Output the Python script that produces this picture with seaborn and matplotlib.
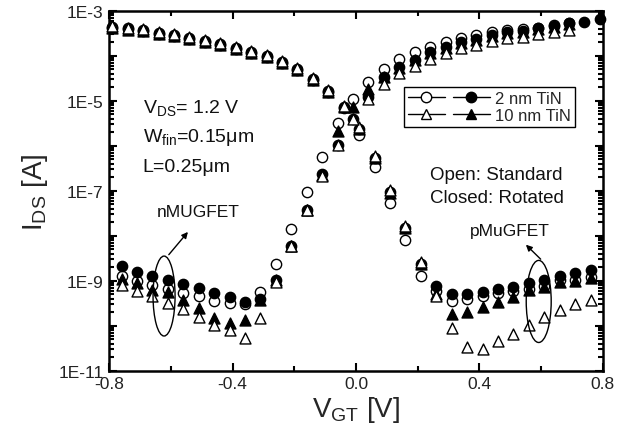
import numpy as np
import pandas as pd
import matplotlib
matplotlib.use("Agg")
import matplotlib.pyplot as plt
from matplotlib.lines import Line2D
from matplotlib.patches import Ellipse
from matplotlib.ticker import LogLocator, FuncFormatter, MultipleLocator, NullFormatter
import seaborn as sns

# ---------------- data: log10(I_DS [A]) versus V_GT [V] ----------------
# pMuGFET branch (current falls with V_GT)
vgt_p = [-0.79, -0.74, -0.69, -0.64, -0.59, -0.54, -0.49, -0.44, -0.39, -0.34,
         -0.29, -0.24, -0.19, -0.14, -0.09, -0.04, 0.01, 0.06, 0.11, 0.16,
         0.21, 0.26, 0.31, 0.36, 0.41, 0.46, 0.51, 0.56, 0.61, 0.66, 0.71, 0.76]
p_2nm_std = [-3.35, -3.39, -3.42, -3.49, -3.53, -3.60, -3.66, -3.73, -3.82, -3.91,
             -4.00, -4.13, -4.29, -4.51, -4.78, -5.16, -5.76, -6.47, -7.27, -8.10,
             -8.88, -9.22, -9.44, -9.40, -9.34, -9.27, -9.23, -9.19, -9.12, -8.99, -8.99, -8.92]
p_2nm_rot = [-3.37, -3.41, -3.44, -3.51, -3.55, -3.62, -3.68, -3.75, -3.84, -3.93,
             -4.02, -4.15, -4.31, -4.53, -4.80, -5.13, -5.62, -6.26, -7.03, -7.82,
             -8.62, -9.12, -9.29, -9.29, -9.24, -9.19, -9.14, -9.04, -8.97, -8.88, -8.82, -8.75]
p_10nm_std = [-3.33, -3.37, -3.40, -3.47, -3.51, -3.58, -3.64, -3.71, -3.80, -3.89,
              -3.98, -4.11, -4.27, -4.49, -4.76, -5.11, -5.58, -6.22, -6.99, -7.77,
              -8.58, -9.34, -10.04, -10.47, -10.51, -10.33, -10.18, -9.97, -9.81, -9.64, -9.51, -9.42]
p_10nm_rot = [-3.38, -3.42, -3.45, -3.51, -3.55, -3.62, -3.68, -3.75, -3.84, -3.93,
              -4.02, -4.15, -4.31, -4.53, -4.80, -5.14, -5.63, -6.27, -7.04, -7.83,
              -8.62, -9.29, -9.73, -9.68, -9.58, -9.46, -9.36, -9.20, -9.14, -9.02, -9.00, -8.94]

# nMUGFET branch (current rises with V_GT)
vgt_n = [-0.76, -0.71, -0.66, -0.61, -0.56, -0.51, -0.46, -0.41, -0.36, -0.31,
         -0.26, -0.21, -0.16, -0.11, -0.06, -0.01, 0.04, 0.09, 0.14, 0.19,
         0.24, 0.29, 0.34, 0.39, 0.44, 0.49, 0.54, 0.59, 0.64, 0.69, 0.74, 0.79]
n_2nm_std = [-8.90, -9.01, -9.10, -9.19, -9.27, -9.34, -9.44, -9.49, -9.52, -9.25,
             -8.62, -7.84, -7.02, -6.25, -5.48, -4.96, -4.58, -4.28, -4.07, -3.92,
             -3.80, -3.70, -3.60, -3.54, -3.47, -3.42, -3.40, -3.37, -3.31, -3.26]
n_2nm_rot = [-8.67, -8.81, -8.90, -8.99, -9.07, -9.16, -9.27, -9.36, -9.46, -9.40,
             -8.97, -8.22, -7.42, -6.62, -5.98, -5.40, -4.92, -4.46, -4.25, -4.08,
             -3.92, -3.80, -3.69, -3.62, -3.53, -3.47, -3.44, -3.39, -3.33, -3.27, -3.24, -3.19]
n_10nm_std = [-9.09, -9.22, -9.34, -9.50, -9.62, -9.81, -9.98, -10.10, -10.27, -9.83,
              -9.03, -8.22, -7.42, -6.66, -5.99, -5.40, -4.96, -4.62, -4.38, -4.23,
              -4.06, -3.94, -3.82, -3.75, -3.67, -3.61, -3.57, -3.51, -3.47, -3.43]
n_10nm_rot = [-8.95, -9.05, -9.20, -9.25, -9.42, -9.61, -9.83, -9.93, -9.86, -9.42,
              -8.97, -8.22, -7.42, -6.64, -5.66, -5.14, -4.73, -4.47, -4.27, -4.10,
              -3.94, -3.82, -3.71, -3.64, -3.55, -3.49, -3.46, -3.41, -3.35, -3.29]


def frame(v, logi):
    n = len(logi)
    return pd.DataFrame({"VGT": v[:n], "IDS": 10.0 ** np.asarray(logi)})


# drawing order: open circles, filled circles, filled triangles, open triangles
series = [
    (frame(vgt_p, p_2nm_std), "o", "white"),
    (frame(vgt_n, n_2nm_std), "o", "white"),
    (frame(vgt_p, p_2nm_rot), "o", "black"),
    (frame(vgt_n, n_2nm_rot), "o", "black"),
    (frame(vgt_p, p_10nm_rot), "^", "black"),
    (frame(vgt_n, n_10nm_rot), "^", "black"),
    (frame(vgt_p, p_10nm_std), "^", "white"),
    (frame(vgt_n, n_10nm_std), "^", "white"),
]

# ---------------- figure ----------------
sns.set_style("ticks")
plt.rcParams["font.family"] = ["Liberation Sans", "DejaVu Sans"]
plt.rcParams["mathtext.default"] = "regular"

fig = plt.figure(figsize=(6.28, 4.35), dpi=100)
ax = fig.add_axes([0.174, 0.145, 0.786, 0.8276])

for z, (df, mk, fc) in enumerate(series):
    sns.scatterplot(data=df, x="VGT", y="IDS", marker=mk, s=55 if mk == "o" else 62,
                    facecolor=fc, edgecolor="black", linewidth=1.0, ax=ax,
                    zorder=3 + z, clip_on=False)

ax.set_yscale("log")
ax.set_xlim(-0.8, 0.8)
ax.set_ylim(1e-11, 1e-3)

# ticks
ax.xaxis.set_major_locator(MultipleLocator(0.4))
ax.xaxis.set_minor_locator(MultipleLocator(0.2))
ax.xaxis.set_major_formatter(FuncFormatter(lambda v, p: f"{v:.1f}".replace("-0.0", "0.0")))
ax.yaxis.set_major_locator(LogLocator(base=10, numticks=20))
ax.yaxis.set_minor_locator(LogLocator(base=10, subs=np.arange(2, 10), numticks=20))
ax.yaxis.set_minor_formatter(NullFormatter())


def ylab(v, p):
    e = int(round(np.log10(v)))
    return f"1E{e}" if e % 2 else ""


ax.yaxis.set_major_formatter(FuncFormatter(ylab))
ax.tick_params(which="both", direction="in", top=True, right=True, width=1.5,
               color="black")
ax.tick_params(which="major", length=6, labelsize=12.5, pad=4, labelcolor="#222222")
ax.tick_params(which="minor", length=3.5)
for sp in ax.spines.values():
    sp.set_linewidth(1.8)
    sp.set_color("black")

ax.set_xlabel("V$_{GT}$ [V]", fontsize=20, labelpad=2)
ax.set_ylabel("I$_{DS}$ [A]", fontsize=20, labelpad=6)

# annotations
tkw = dict(transform=ax.transAxes, color="#111111")
ax.text(0.068, 0.733, "V$_{DS}$= 1.2 V", fontsize=14, va="center", **tkw)
ax.text(0.068, 0.650, "W$_{fin}$=0.15μm", fontsize=14, va="center", **tkw)
ax.text(0.068, 0.567, "L=0.25μm", fontsize=14, va="center", **tkw)
ax.text(0.650, 0.547, "Open: Standard", fontsize=13.5, va="center", **tkw)
ax.text(0.650, 0.483, "Closed: Rotated", fontsize=13.5, va="center", **tkw)
ax.text(0.180, 0.442, "nMUGFET", fontsize=12.5, ha="center", va="center", **tkw)
ax.text(0.812, 0.390, "pMuGFET", fontsize=12.5, ha="center", va="center", **tkw)

ax.add_patch(Ellipse((0.111, 0.208), 0.0446, 0.222, transform=ax.transAxes,
                     fill=False, edgecolor="black", linewidth=1.0, zorder=20))
ax.add_patch(Ellipse((0.870, 0.193), 0.0506, 0.228, transform=ax.transAxes,
                     fill=False, edgecolor="black", linewidth=1.0, zorder=20))
akw = dict(arrowstyle="-|>", color="black", lw=1.0, mutation_scale=9)
ax.annotate("", xy=(0.163, 0.392), xytext=(0.117, 0.317),
            xycoords="axes fraction", arrowprops=akw)
ax.annotate("", xy=(0.840, 0.356), xytext=(0.878, 0.305),
            xycoords="axes fraction", arrowprops=akw)

# legend
def handle(mk, fc):
    return Line2D([], [], color="black", lw=1.0, marker=mk, markersize=7.5,
                  markerfacecolor=fc, markeredgecolor="black")


handles = [handle("o", "white"), handle("^", "white"),
           handle("o", "black"), handle("^", "black")]
labels = ["", "", "2 nm TiN", "10 nm TiN"]
leg = ax.legend(handles, labels, ncol=2, loc="upper left",
                bbox_to_anchor=(0.597, 0.79), fontsize=12, frameon=True,
                fancybox=False, edgecolor="black", framealpha=1,
                handlelength=2.2, handletextpad=0.3, columnspacing=0.2,
                labelspacing=0.15, borderpad=0.25, borderaxespad=0)
leg.get_frame().set_linewidth(1.0)

fig.savefig("out.png", dpi=100, facecolor="white")
